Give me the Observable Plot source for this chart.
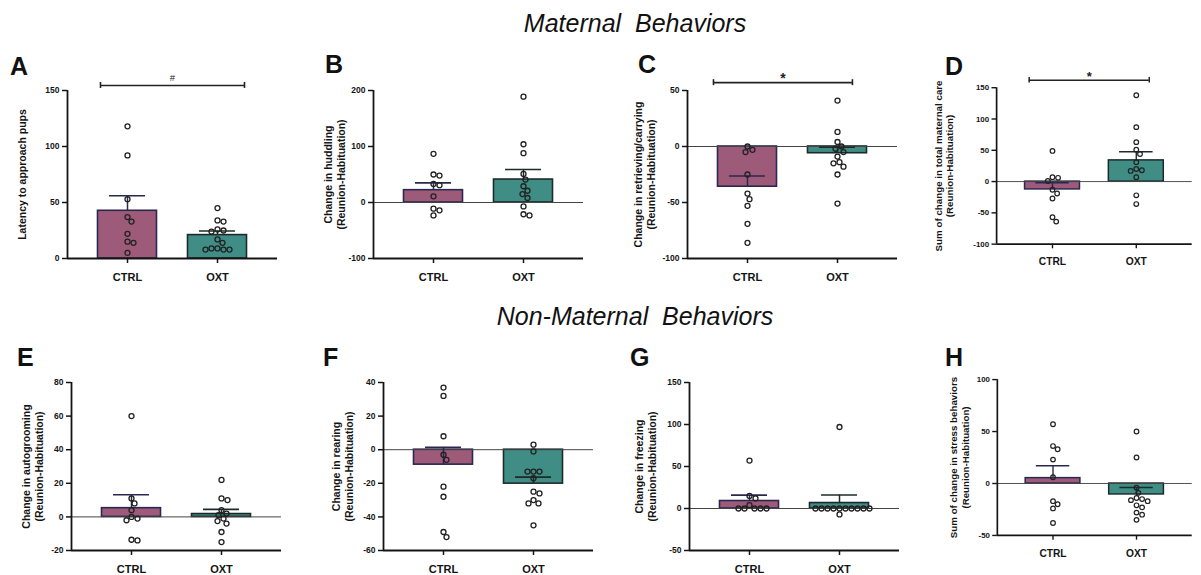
<!DOCTYPE html>
<html><head><meta charset="utf-8">
<script src="https://cdn.jsdelivr.net/npm/d3@7"></script>
<script src="https://cdn.jsdelivr.net/npm/@observablehq/plot@0.6"></script>
<style>
html,body{margin:0;padding:0;background:#fff;overflow:hidden;}
#fig{position:relative;width:1201px;height:575px;overflow:hidden;font-family:"Liberation Sans",Arial,Helvetica,sans-serif;color:#111;}
.hdr{position:absolute;font-style:italic;font-size:25px;line-height:25px;white-space:pre;transform:translateX(-50%);}
.letter{position:absolute;font-weight:bold;font-size:25px;line-height:25px;}
.panel{position:absolute;}
.panel svg{overflow:visible;}
</style></head><body><div id="fig"></div>
<script>
// ---------- categories & text ----------
const groups = ["CTRL", "OXT"];
const groupFill = ["#9e5a79", "#3f8d85"];
const groupEdge = ["#2a2850", "#1c2b2a"];
const sectionTitles = ["Maternal  Behaviors", "Non-Maternal  Behaviors"];
const panelLetters = ["A", "B", "C", "D", "E", "F", "G", "H"];
const yTitles = [
  "Latency to approach pups",
  "Change in huddling\n(Reunion-Habituation)",
  "Change in retrieving/carrying\n(Reunion-Habituation)",
  "Sum of change in total maternal care\n(Reunion-Habituation)",
  "Change in autogrooming\n(Reunion-Habituation)",
  "Change in rearing\n(Reunion-Habituation)",
  "Change in freezing\n(Reunion-Habituation)",
  "Sum of change in stress behaviors\n(Reunion-Habituation)"
];
const yTicks = [
  [0, 50, 100, 150],
  [-100, 0, 100, 200],
  [-100, -50, 0, 50],
  [-100, -50, 0, 50, 100, 150],
  [-20, 0, 20, 40, 60, 80],
  [-60, -40, -20, 0, 20, 40],
  [-50, 0, 50, 100, 150],
  [-50, 0, 50, 100]
];

// ---------- values (individual animals, bar means, SEM) ----------
const ctrlA = [118, 92, 53, 37, 33, 22, 15, 14, 5];
const oxtA  = [45, 34, 33, 26, 25, 24, 17, 14, 9, 9, 8, 8, 8];
const meanA = [42.6, 20.9], semA = [13.4, 3.6];

const ctrlB = [87, 50, 48, 33, 31, 11, -11, -14, -23];
const oxtB  = [189, 104, 88, 51, 41, 29, 21, 15, 8, -7, -21, -23];
const meanB = [22, 41], semB = [13, 18];

const ctrlC = [0, -3, -5, -25, -42, -47, -53, -69, -86];
const oxtC  = [41, 13, 4, 0, -2, -5, -9, -14, -15, -18, -25, -51];
const meanC = [-35.9, -6], semC = [9.6, 5.3];

const ctrlD = [49, 7, 6, 1, -13, -19, -27, -57, -64];
const oxtD  = [138, 87, 63, 51, 44, 31, 20, 18, 17, 7, -22, -36];
const meanD = [-12.5, 33.9], semD = [10.5, 13.9];

const ctrlE = [60, 11, 8, 4, 0, -1, -2, -13.6, -14];
const oxtE  = [22, 11, 10, 4, 2, 1, -1, -2.5, -4, -9, -15];
const meanE = [5.2, 1.7], semE = [8, 2.8];

const ctrlF = [37, 32, 8, -3, -6, -22, -28, -49, -52];
const oxtF  = [3, -1, -13, -13, -13, -17, -25, -26, -30, -32, -32, -45];
const meanF = [-8.9, -20.2], semF = [10.3, 3.9];

const ctrlG = [57, 15, 12, 4, 0, 0, 0, 0, 0];
const oxtG  = [97, 0, 0, 0, 0, 0, 0, 0, 0, 0, 0, -7];
const meanG = [8.9, 6.5], semG = [7, 9.5];

const ctrlH = [57, 36, 33, 23, 6, -17, -20, -24, -38];
const oxtH  = [50, 25, -4, -9, -14, -15, -16, -17, -21, -23, -28, -30, -35];
const meanH = [5.2, -10.5], semH = [11.9, 6.7];

// significance brackets
const bracketPanel = [0, 2, 3];
const bracketY = [154.5, 57, 162];
const bracketFrom = [-0.30, -0.378, -0.278];
const bracketTo = [1.30, 1.166, 1.155];
const bracketMark = ["#", "*", "*"];

const ctrlPoints = [ctrlA, ctrlB, ctrlC, ctrlD, ctrlE, ctrlF, ctrlG, ctrlH];
const oxtPoints = [oxtA, oxtB, oxtC, oxtD, oxtE, oxtF, oxtG, oxtH];
const means = [meanA, meanB, meanC, meanD, meanE, meanF, meanG, meanH];
const sems = [semA, semB, semC, semD, semE, semF, semG, semH];

// ---------- layout ----------
const axisLeft = [67, 373, 687, 1002, 71, 383, 689, 1003];
const rowFrameTop = [90, 382];
const titleOffset = [46, 46, 50, 64, 46, 48, 51, 48];
const letterPos = [[10, 57], [325, 55], [638, 55], [945, 57], [17, 348], [323, 348], [630, 348], [945, 348]];
const FRAME_W = 210, FRAME_H = 168, ML = 85, MR = 10, MT = 40, MB = 35;
const STEP = 90;                       // px between category centres
const PAD = (FRAME_W / STEP - 1) / 2;
const xDomain = [-PAD, 1 + PAD];
const BAR_HALF = 29.5 / STEP;
const CAP_HALF = 0.2;
const INK = "#141414";

// compact horizontal spread of points (pixel offsets), no overlap
function swarm(vals, pyu, d = 5.8) {
  const placed = [];
  return vals.map(v => {
    const py = v * pyu;
    for (let k = 0; k < 100; k++) {
      for (const s of (k ? [k, -k] : [0])) {
        if (placed.every(p => (p.x - s) ** 2 + (p.y - py) ** 2 >= d * d)) {
          placed.push({x: s, y: py});
          return s;
        }
      }
    }
    return 0;
  });
}

const fig = document.getElementById("fig");

sectionTitles.forEach((t, r) => {
  const el = document.createElement("div");
  el.className = "hdr";
  el.textContent = t;
  el.style.left = "635px";
  el.style.top = (r === 0 ? 11 : 304) + "px";
  fig.appendChild(el);
});

panelLetters.forEach((letter, p) => {
  const row = p < 4 ? 0 : 1;
  const ticks = yTicks[p];
  const yDom = [ticks[0], ticks[ticks.length - 1]];
  const pyu = FRAME_H / (yDom[1] - yDom[0]);

  const pts = [];
  [ctrlPoints[p], oxtPoints[p]].forEach((vals, g) => {
    const off = swarm(vals, pyu);
    vals.forEach((v, k) => pts.push({g, v, x: g + off[k] / STEP}));
  });
  const bars = groups.map((name, g) => ({g, name, mean: means[p][g], top: means[p][g] + sems[p][g]}));

  const marks = [];
  bars.forEach(b => {
    marks.push(Plot.rect([b], {x1: d => d.g - BAR_HALF, x2: d => d.g + BAR_HALF, y1: 0, y2: "mean",
      fill: groupFill[b.g], stroke: groupEdge[b.g], strokeWidth: 1.6}));
  });
  if (yDom[0] < 0) marks.push(Plot.ruleY([0], {stroke: "#444", strokeWidth: 1}));
  bars.forEach(b => {
    marks.push(Plot.ruleX([b], {x: "g", y1: "mean", y2: "top", stroke: groupEdge[b.g], strokeWidth: 1.5}));
    marks.push(Plot.ruleY([b], {y: "top", x1: d => d.g - CAP_HALF, x2: d => d.g + CAP_HALF, stroke: groupEdge[b.g], strokeWidth: 1.6}));
  });
  marks.push(Plot.dot(pts, {x: "x", y: "v", r: 2.5, stroke: "#222", strokeWidth: 1.3, fill: "none"}));
  marks.push(Plot.ruleX([xDomain[0]], {stroke: INK, strokeWidth: 1.8}));
  marks.push(Plot.ruleY([yDom[0]], {stroke: INK, strokeWidth: 1.8}));
  marks.push(Plot.axisY({ticks, tickFormat: d => String(d), tickSize: 5, tickPadding: 3, fontSize: 8.5,
    fontWeight: "bold", stroke: INK, strokeWidth: 1.5, fill: INK, label: null}));
  marks.push(Plot.axisX({ticks: [0, 1], tickFormat: i => groups[i], tickSize: 5, tickPadding: 10, fontSize: 11,
    fontWeight: "bold", stroke: INK, strokeWidth: 1.5, fill: INK, label: null}));
  marks.push(Plot.text([yTitles[p]], {frameAnchor: "left", rotate: -90, dx: -(titleOffset[p] + 4),
    textAnchor: "middle", lineAnchor: "top", lineHeight: 1.2, fontSize: 10.5, fontWeight: "bold", fill: INK}));

  const bi = bracketPanel.indexOf(p);
  if (bi >= 0) {
    const by = bracketY[bi], b1 = bracketFrom[bi], b2 = bracketTo[bi];
    marks.push(Plot.ruleY([by], {x1: b1, x2: b2, stroke: "#222", strokeWidth: 1.6}));
    marks.push(Plot.ruleX([b1, b2], {x: d => d, y1: by, y2: by, insetTop: -3, insetBottom: -3, stroke: "#222", strokeWidth: 1.6}));
    const isStar = bracketMark[bi] === "*";
    marks.push(Plot.text([bracketMark[bi]], {x: (b1 + b2) / 2, y: by, dy: isStar ? -4 : -8,
      fontSize: isStar ? 14 : 9.5, fontWeight: isStar ? "bold" : "normal", fill: "#222"}));
  }

  const svg = Plot.plot({
    width: ML + FRAME_W + MR, height: MT + FRAME_H + MB,
    marginLeft: ML, marginRight: MR, marginTop: MT, marginBottom: MB,
    x: {domain: xDomain, axis: null},
    y: {domain: yDom, axis: null},
    style: {fontFamily: '"Liberation Sans", Arial, Helvetica, sans-serif', background: "transparent", color: INK},
    marks
  });
  const wrap = document.createElement("div");
  wrap.className = "panel";
  wrap.style.left = (axisLeft[p] - ML) + "px";
  wrap.style.top = (rowFrameTop[row] - MT) + "px";
  wrap.appendChild(svg);
  fig.appendChild(wrap);

  const lt = document.createElement("div");
  lt.className = "letter";
  lt.textContent = letter;
  lt.style.left = letterPos[p][0] + "px";
  lt.style.top = (letterPos[p][1] - 3.3) + "px";
  fig.appendChild(lt);
});
</script></body></html>
